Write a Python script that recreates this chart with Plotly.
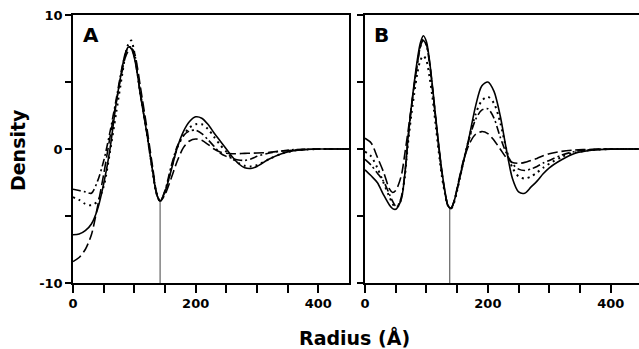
import plotly.graph_objects as go

# ---------------- data ----------------
rA = [0, 10, 20, 30, 40, 50, 60, 70, 80, 85, 90, 95, 100, 105, 110, 120, 130, 136, 142,
      150, 160, 170, 180, 190, 200, 210, 220, 230, 240, 250, 260, 270, 280, 290, 300,
      320, 340, 360, 380, 400, 450]
A_solid = [-6.4, -6.35, -6.1, -5.6, -4.5, -2.6, -0.1, 3.3, 6.0, 7.1, 7.6, 7.5, 6.8, 5.6, 4.0, 1.3, -1.7, -3.3, -3.9,
           -3.2, -1.6, 0.1, 1.3, 2.05, 2.4, 2.3, 1.85, 1.2, 0.6, 0.0, -0.6, -1.1, -1.4, -1.45, -1.3,
           -0.75, -0.35, -0.12, -0.04, 0.0, 0.0]
A_dot = [-3.6, -3.8, -4.1, -4.2, -3.9, -2.8, -0.3, 2.6, 5.5, 6.9, 7.8, 8.1, 7.2, 5.7, 4.1, 1.3, -1.7, -3.3, -3.9,
         -3.2, -1.5, 0.1, 1.0, 1.6, 1.85, 1.85, 1.5, 0.9, 0.3, -0.2, -0.7, -1.05, -1.25, -1.3, -1.2,
         -0.75, -0.35, -0.12, -0.04, 0.0, 0.0]
A_dashdot = [-3.0, -3.1, -3.2, -3.3, -2.4, -0.9, 1.2, 3.6, 6.1, 7.0, 7.6, 7.6, 6.9, 5.6, 4.1, 1.3, -1.7, -3.3, -3.9,
             -3.1, -1.3, 0.2, 1.0, 1.35, 1.4, 1.15, 0.7, 0.2, -0.3, -0.55, -0.7, -0.82, -0.85, -0.75, -0.55,
             -0.3, -0.15, -0.05, -0.02, 0.0, 0.0]
A_longdash = [-8.4, -8.1, -7.5, -6.4, -4.3, -1.9, 0.8, 3.4, 5.8, 6.8, 7.3, 7.5, 7.2, 6.1, 4.6, 1.7, -1.4, -3.2, -3.9,
              -3.4, -2.2, -0.9, 0.1, 0.6, 0.75, 0.65, 0.35, 0.0, -0.22, -0.32, -0.35, -0.35, -0.33, -0.31, -0.3,
              -0.25, -0.15, -0.08, -0.03, 0.0, 0.0]

rB = [0, 10, 20, 30, 40, 45, 50, 55, 60, 65, 70, 75, 80, 85, 90, 95, 100, 105, 110, 115, 120, 125,
      130, 135, 140, 145, 150, 160, 170, 180, 190, 200, 210, 220, 230, 240, 250, 260, 270, 280,
      290, 300, 320, 340, 360, 380, 400, 450]
B_solid = [-1.55, -2.0, -2.5, -3.4, -4.2, -4.45, -4.5, -4.2, -3.6, -1.8, 0.8, 3.0, 4.9, 6.6, 7.9, 8.45, 8.0, 6.6, 4.6, 2.4, 0.3, -1.6,
           -3.1, -4.25, -4.45, -3.9, -3.0, -1.0, 1.0, 3.2, 4.7, 5.0, 4.3, 2.5, 0.0, -2.2, -3.2, -3.3, -2.85, -2.4,
           -1.85, -1.4, -0.8, -0.35, -0.15, -0.05, -0.01, 0.0]
B_dot = [-0.2, -0.55, -1.4, -2.5, -3.6, -4.1, -4.35, -4.2, -3.5, -2.0, 0.4, 2.4, 4.1, 5.6, 6.6, 6.95, 6.6, 5.4, 3.8, 1.8, -0.2, -2.0,
         -3.3, -4.2, -4.45, -4.0, -3.1, -1.0, 0.9, 2.6, 3.6, 3.9, 3.4, 2.0, 0.0, -1.4, -2.05, -2.2, -2.05, -1.75,
         -1.4, -1.1, -0.6, -0.28, -0.12, -0.04, 0.0, 0.0]
B_dashdot = [-0.77, -1.2, -1.8, -2.4, -3.4, -3.9, -4.25, -4.1, -3.4, -1.8, 0.7, 2.9, 4.7, 6.3, 7.6, 8.1, 7.7, 6.4, 4.4, 2.3, 0.2, -1.7,
             -3.2, -4.2, -4.45, -3.9, -3.0, -1.0, 0.8, 2.2, 2.9, 3.0, 2.3, 0.9, -0.3, -1.1, -1.5, -1.6, -1.5, -1.3,
             -1.05, -0.85, -0.45, -0.2, -0.08, -0.03, 0.0, 0.0]
B_longdash = [0.8, 0.45, -0.6, -1.7, -3.0, -3.25, -3.1, -2.6, -1.8, -0.3, 1.3, 3.0, 4.7, 6.3, 7.6, 8.2, 7.8, 6.5, 4.5, 2.3, 0.2, -1.7,
              -3.2, -4.2, -4.4, -3.9, -2.9, -0.9, 0.4, 1.1, 1.3, 1.15, 0.65, 0.0, -0.65, -1.0, -1.07, -1.0, -0.85, -0.7,
              -0.5, -0.35, -0.18, -0.08, -0.04, -0.01, 0.0, 0.0]

vline_A_x = [142, 142]
vline_A_y = [-10, -3.9]
vline_B_x = [138, 138]
vline_B_y = [-10, -4.45]

x_ticks = [0, 50, 100, 150, 200, 250, 300, 350, 400]
x_ticktext = ["0", "", "", "", "200", "", "", "", "400"]
y_ticks = [-10, -5, 0, 5, 10]
y_ticktext = ["-10", "", "0", "", "10"]

# ---------------- figure ----------------
FONT = "DejaVu Sans"
styles = [
    ("solid", 1.6),
    ("2px,4px", 2.0),
    ("8px,3px,2px,3px", 1.6),
    ("10px,4px", 1.6),
]

fig = go.Figure()

for xa, ya, r, series in [("x", "y", rA, [A_solid, A_dot, A_dashdot, A_longdash]),
                          ("x2", "y2", rB, [B_solid, B_dot, B_dashdot, B_longdash])]:
    for (dash, w), vals in zip(styles, series):
        fig.add_trace(go.Scatter(x=r, y=vals, mode="lines", xaxis=xa, yaxis=ya,
                                 line=dict(color="black", width=w, dash=dash, shape="spline", smoothing=0.8),
                                 showlegend=False, hoverinfo="skip"))

fig.add_trace(go.Scatter(x=vline_A_x, y=vline_A_y, mode="lines", xaxis="x", yaxis="y",
                         line=dict(color="#444", width=1), showlegend=False))
fig.add_trace(go.Scatter(x=vline_B_x, y=vline_B_y, mode="lines", xaxis="x2", yaxis="y2",
                         line=dict(color="#444", width=1), showlegend=False))

axis_common = dict(showline=True, linecolor="black", linewidth=1.5, showgrid=False, zeroline=False,
                   ticks="outside", tickcolor="black", tickwidth=1.5,
                   tickfont=dict(family=FONT, size=13, color="black", weight="bold"))

fig.update_layout(
    width=639, height=349,
    margin=dict(l=73, r=0, t=15, b=66, pad=0),
    plot_bgcolor="white", paper_bgcolor="white",
    xaxis=dict(domain=[0, 0.4876], range=[0, 450], tickvals=x_ticks, ticktext=x_ticktext,
               ticklen=8, mirror=True, anchor="y", **axis_common),
    xaxis2=dict(domain=[0.5159, 1.0], range=[0, 446], tickvals=x_ticks, ticktext=x_ticktext,
                ticklen=8, mirror=True, anchor="y2", **axis_common),
    yaxis=dict(domain=[0, 1], range=[-10, 10], tickvals=y_ticks, ticktext=y_ticktext,
               ticklen=6, mirror=True, anchor="x", **axis_common),
    yaxis2=dict(domain=[0, 1], range=[-10, 10], tickvals=y_ticks, ticktext=y_ticktext,
                ticklen=6, mirror=False, anchor="x2", showticklabels=False, **axis_common),
    annotations=[
        dict(text="A", xref="x domain", yref="y domain", x=0.03, y=0.927, xanchor="left", yanchor="middle",
             showarrow=False, font=dict(family=FONT, size=20, color="black", weight="bold")),
        dict(text="B", xref="x2 domain", yref="y2 domain", x=0.027, y=0.927, xanchor="left", yanchor="middle",
             showarrow=False, font=dict(family=FONT, size=20, color="black", weight="bold")),
        dict(text="Radius (Å)", xref="paper", yref="paper", x=0.498, y=-0.2015, xanchor="center", yanchor="middle",
             showarrow=False, font=dict(family=FONT, size=19, color="black", weight="bold")),
        dict(text="Density", xref="paper", yref="paper", x=-0.0972, y=0.496, xanchor="center", yanchor="middle",
             textangle=-90, showarrow=False, font=dict(family=FONT, size=19, color="black", weight="bold")),
    ],
)

fig.write_html("out.html", config={"displayModeBar": False},
               post_script="document.body.style.margin='0';document.body.style.overflow='hidden';")
